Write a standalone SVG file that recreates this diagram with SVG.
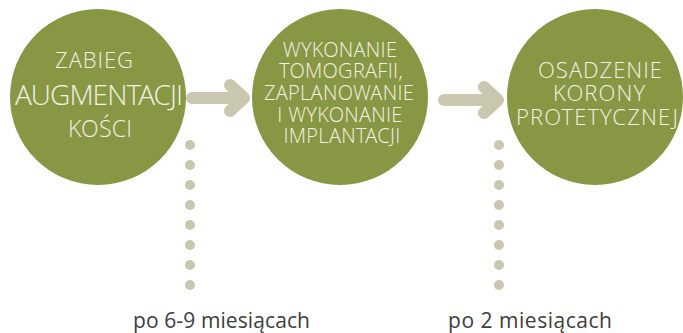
<svg xmlns="http://www.w3.org/2000/svg" width="683" height="333" viewBox="0 0 683 333">
<style>
.node{fill:#889743}
.lbl{font-family:"Open Sans Light","Open Sans",sans-serif;font-weight:300;fill:#f2f1e6;text-anchor:middle}
.arrow{fill:none;stroke:#c9c7b0;stroke-width:12;stroke-linecap:round;stroke-linejoin:round}
.dot{fill:#c9c7b0}
.cap{font-family:"Open Sans",sans-serif;font-size:21px;fill:#3d3d3d}
</style>
<rect width="683" height="333" fill="#ffffff"/>
<g id="connectors">
<path class="arrow" d="M192 98H244M230 85L244 98L230 111"/>
<path class="arrow" d="M444 100H498M484 87L498 100L484 113"/>
<g class="dot">
<circle cx="190" cy="145" r="5"/><circle cx="190" cy="165" r="5"/><circle cx="190" cy="185" r="5"/><circle cx="190" cy="205" r="5"/><circle cx="190" cy="225" r="5"/><circle cx="190" cy="245" r="5"/><circle cx="190" cy="265" r="5"/><circle cx="190" cy="285" r="5"/>
<circle cx="499" cy="145" r="5"/><circle cx="499" cy="165" r="5"/><circle cx="499" cy="185" r="5"/><circle cx="499" cy="205" r="5"/><circle cx="499" cy="225" r="5"/><circle cx="499" cy="245" r="5"/><circle cx="499" cy="265" r="5"/><circle cx="499" cy="285" r="5"/>
</g>
</g>
<g id="node1">
<circle class="node" cx="98" cy="97" r="88"/>
<text class="lbl" x="94" y="68" font-size="22" textLength="78" lengthAdjust="spacing">ZABIEG</text>
<text class="lbl" x="99" y="105" font-size="28" textLength="168" lengthAdjust="spacing">AUGMENTACJI</text>
<text class="lbl" x="100" y="137" font-size="23" textLength="64" lengthAdjust="spacing">KOŚCI</text>
</g>
<g id="node2">
<circle class="node" cx="340" cy="97" r="88"/>
<text class="lbl" font-size="20" letter-spacing="0.3"><tspan x="340" y="57">WYKONANIE</tspan><tspan x="341" y="78">TOMOGRAFII,</tspan><tspan x="339" y="100">ZAPLANOWANIE</tspan><tspan x="340" y="122">I WYKONANIE</tspan><tspan x="342" y="143">IMPLANTACJI</tspan></text>
</g>
<g id="node3">
<circle class="node" cx="595" cy="97" r="88"/>
<text class="lbl" x="600" y="78" font-size="22" textLength="124" lengthAdjust="spacing">OSADZENIE</text>
<text class="lbl" x="599" y="101" font-size="22" textLength="92" lengthAdjust="spacing">KORONY</text>
<text class="lbl" x="597" y="125" font-size="22" textLength="162" lengthAdjust="spacing">PROTETYCZNEJ</text>
</g>
<g id="captions">
<text class="cap" x="133" y="328" textLength="177" lengthAdjust="spacing">po 6-9 miesiącach</text>
<text class="cap" x="448" y="328" textLength="164" lengthAdjust="spacing">po 2 miesiącach</text>
</g>
</svg>
